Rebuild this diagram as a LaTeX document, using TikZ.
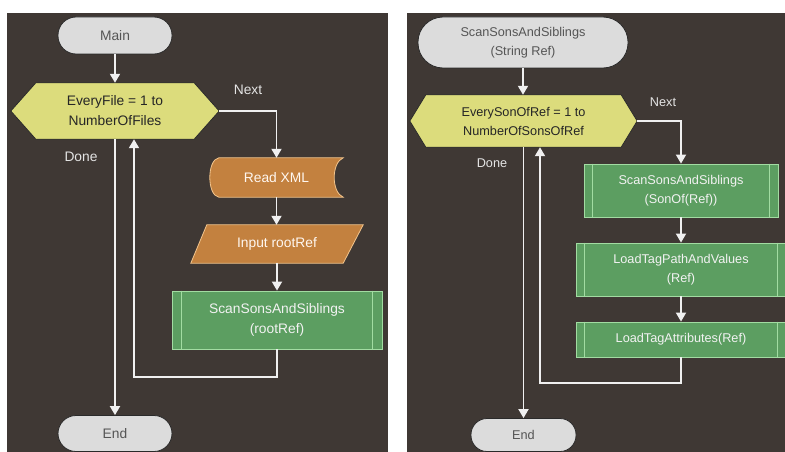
\documentclass[tikz,border=0pt]{standalone}
\usepackage{fontspec}
\setmainfont{Liberation Sans}
\usetikzlibrary{arrows.meta,calc,backgrounds}
\definecolor{panel}{HTML}{3F3834}
\definecolor{termfill}{HTML}{DCDCDC}
\definecolor{termtext}{HTML}{555555}
\definecolor{hexfill}{HTML}{DCDC7C}
\definecolor{orangefill}{HTML}{C3813F}
\definecolor{orangeedge}{HTML}{F2C48C}
\definecolor{greenfill}{HTML}{5C9E61}
\definecolor{greenedge}{HTML}{A2DCA2}
\definecolor{wire}{HTML}{F0F0F0}
\definecolor{lbl}{HTML}{E4E4E4}
\definecolor{edgec}{HTML}{2A2A2A}
\begin{document}
\begin{tikzpicture}[x=1pt,y=-1pt,
 fontL/.style={font=\fontsize{13.8}{20}\selectfont},
 fontR/.style={font=\fontsize{12.7}{19}\selectfont},
 box/.style={inner sep=0pt, align=center},
 term/.style={box, draw=edgec, line width=0.8pt, fill=termfill, text=termtext},
 hexnode/.style={box, text=black!85},
 proc/.style={box, draw=greenedge, line width=0.8pt, fill=greenfill, text=white!95!black},
 io/.style={box, text=white!94!orange},
 hexshape/.style={fill=hexfill, draw=edgec, line width=0.8pt},
 ioshape/.style={fill=orangefill, draw=orangeedge, line width=0.8pt},
 inner/.style={draw=greenedge, line width=0.8pt},
 wireline/.style={draw=wire, line width=1.8pt},
 arr/.style={wireline, -{Triangle[width=10pt,length=9pt]}},
 lab/.style={text=lbl},
]
\useasboundingbox (0,0) rectangle (785,452);

% ---------- left panel ----------
\node[term, fontL, minimum width=114pt, minimum height=37pt, rounded corners=18pt] (mainL) at (115,35.5) {Main};
\node[hexnode, fontL, minimum width=208pt, minimum height=56pt] (hexL) at (115,111) {EveryFile = 1 to\\NumberOfFiles};
\node[io, fontL, minimum width=133pt, minimum height=39pt] (readL) at (276.5,177.5) {Read XML};
\node[io, fontL, minimum width=172pt, minimum height=38pt] (inpL) at (277,244) {Input rootRef};
\node[proc, fontL, minimum width=210pt, minimum height=58pt] (scanL) at (277,320) {ScanSonsAndSiblings\\(rootRef)};
\node[term, fontL, minimum width=114pt, minimum height=36pt, rounded corners=18pt] (endL) at (115,433.5) {End};
\node[lab, fontL] (nextL) at (248,90) {Next};
\node[lab, fontL] (doneL) at (81,157) {Done};
\coordinate (loopL) at (134,377);

% ---------- right panel ----------
\node[term, fontR, minimum width=210pt, minimum height=51pt, rounded corners=25pt] (startR) at (523,42.5) {ScanSonsAndSiblings\\(String Ref)};
\node[hexnode, fontR, minimum width=227pt, minimum height=52pt] (hexR) at (523.5,121) {EverySonOfRef = 1 to\\NumberOfSonsOfRef};
\node[proc, fontR, minimum width=194pt, minimum height=53pt] (g1R) at (681,190.5) {ScanSonsAndSiblings\\(SonOf(Ref))};
\node[proc, fontR, minimum width=210pt, minimum height=53pt] (g2R) at (681,269.5) {LoadTagPathAndValues\\(Ref)};
\node[proc, fontR, minimum width=210pt, minimum height=35pt] (g3R) at (681,339.5) {LoadTagAttributes(Ref)};
\node[term, fontR, minimum width=105pt, minimum height=33pt, rounded corners=16pt] (endR) at (523.5,435) {End};
\node[lab, fontR] (nextR) at (663,102) {Next};
\node[lab, fontR] (doneR) at (492,163) {Done};
\coordinate (loopR) at (540,383);

% ---------- shapes behind text ----------
\begin{pgfonlayer}{background}
\fill[white] (0,0) rectangle (785,452);
\fill[panel] (7,13) rectangle (388,452);
\fill[panel] (407,13) rectangle (785,452);
\path[hexshape] (hexL.west) -- ($(hexL.north west)+(25,0)$) -- ($(hexL.north east)+(-25,0)$) -- (hexL.east) -- ($(hexL.south east)+(-25,0)$) -- ($(hexL.south west)+(25,0)$) -- cycle;
\path[hexshape] (hexR.west) -- ($(hexR.north west)+(16,0)$) -- ($(hexR.north east)+(-16,0)$) -- (hexR.east) -- ($(hexR.south east)+(-16,0)$) -- ($(hexR.south west)+(16,0)$) -- cycle;
\path[ioshape] ($(readL.north west)+(9,0)$) -- (readL.north east)
  .. controls ($(readL.north east)+(-12,5)$) and ($(readL.south east)+(-12,-5)$) .. (readL.south east)
  -- ($(readL.south west)+(9,0)$)
  .. controls ($(readL.south west)+(-3,-2)$) and ($(readL.north west)+(-3,2)$) .. cycle;
\path[ioshape] ($(inpL.north west)+(16,0)$) -- (inpL.north east) -- ($(inpL.south east)+(-20,0)$) -- (inpL.south west) -- cycle;
\end{pgfonlayer}

% inner lines of predefined-process boxes
\draw[inner] ($(scanL.north west)+(10,0)$) -- ($(scanL.south west)+(10,0)$);
\draw[inner] ($(scanL.north east)+(-10,0)$) -- ($(scanL.south east)+(-10,0)$);
\foreach \g in {g1R,g2R,g3R}{
  \draw[inner] ($(\g.north west)+(9,0)$) -- ($(\g.south west)+(9,0)$);
  \draw[inner] ($(\g.north east)+(-9,0)$) -- ($(\g.south east)+(-9,0)$);
}

% ---------- connectors ----------
\draw[arr] (mainL.south) -- (hexL.north);
\draw[arr] (hexL.east) -| (readL.north);
\draw[arr] (readL.south) -- (readL.south |- inpL.north);
\draw[arr] (inpL.south) -- (scanL.north);
\draw[arr] (scanL.south) |- (loopL) -- (loopL |- hexL.south);
\draw[arr] (hexL.south) -- (endL.north);

\draw[arr] (startR.south) -- (startR.south |- hexR.north);
\draw[arr] (hexR.east) -| (g1R.north);
\draw[arr] (g1R.south) -- (g2R.north);
\draw[arr] (g2R.south) -- (g3R.north);
\draw[arr] (g3R.south) |- (loopR) -- (loopR |- hexR.south);
\draw[arr] (hexR.south) -- (hexR.south |- endR.north);
\end{tikzpicture}
\end{document}
